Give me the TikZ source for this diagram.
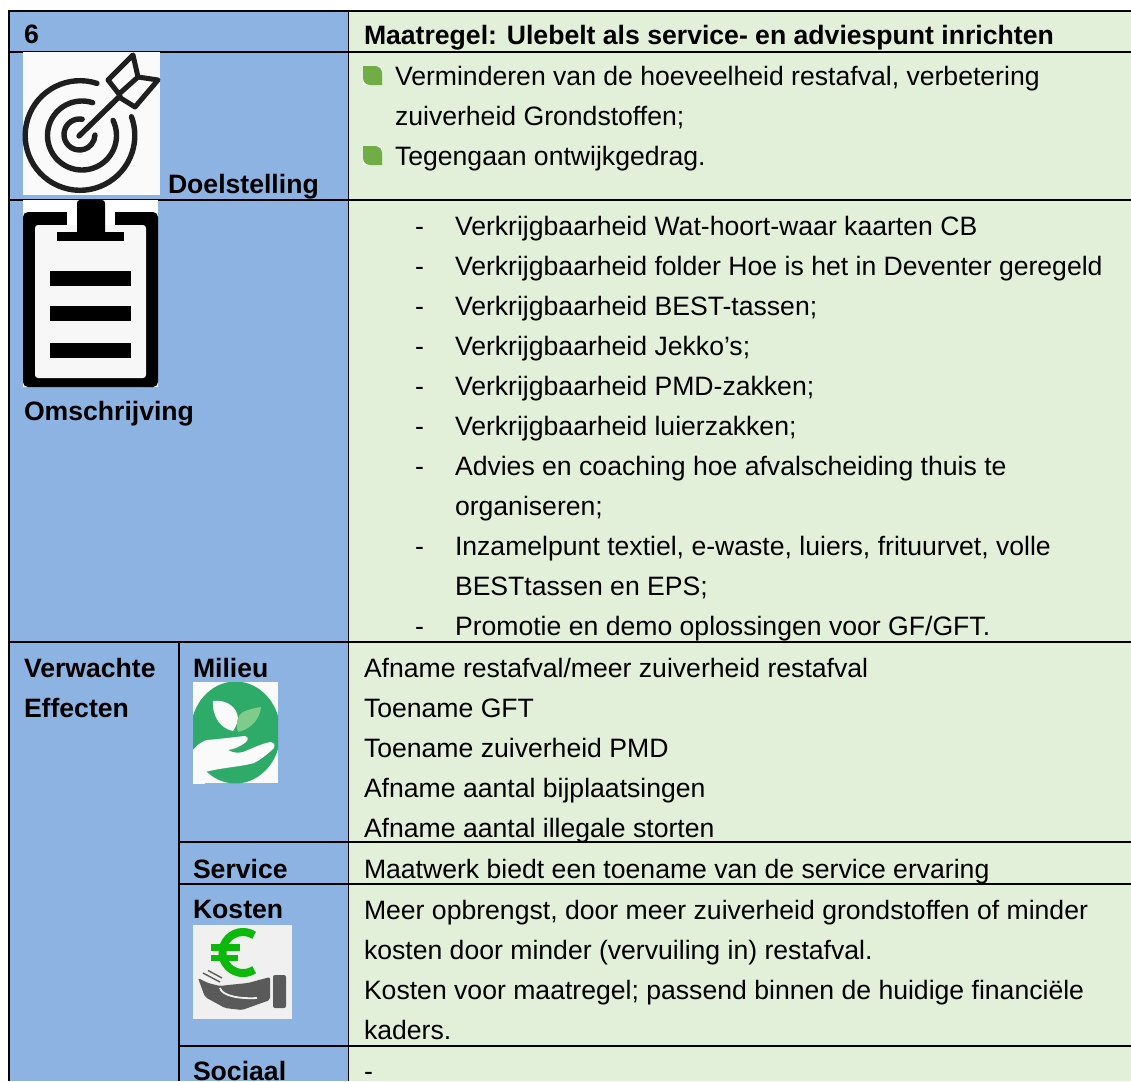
\documentclass[tikz,border=0pt]{standalone}
\usepackage{fontspec}
\setmainfont{Liberation Sans}
\definecolor{cblue}{HTML}{8DB3E2}
\definecolor{cgreen}{HTML}{E2EFD9}
\definecolor{cbul}{HTML}{70AD47}
\definecolor{cleaf}{HTML}{2EAB68}
\definecolor{cleafl}{HTML}{7FCB8B}
\definecolor{ceuro}{HTML}{0DB80D}
\definecolor{chand}{HTML}{5A5A5A}
\newcommand{\fsz}{\fontsize{26.6}{30}\selectfont}
\tikzset{
 txt/.style={anchor=base west,inner sep=0pt,outer sep=0pt,font=\fsz,text=black},
 hdr/.style={txt,font=\fsz\bfseries},
 grid/.style={draw=black,line width=1.7pt},
 tick/.style={txt}
}
\newcommand{\bul}[2]{%
 \begin{scope}[shift={(#1,#2)}]
 \fill[white] (0,0) rectangle (19,19);
 \fill[cbul] (0,0) -- (12,0) .. controls (16,0) and (19,3) .. (19,7) -- (19,19) -- (7,19) .. controls (3,19) and (0,16) .. (0,12) -- cycle;
 \end{scope}
}
\begin{document}
\begin{tikzpicture}[x=1pt,y=-1pt]
\useasboundingbox (0,0) rectangle (1131,1081);
\fill[white] (0,0) rectangle (1131,1081);
% cells
\fill[cblue] (9,11) rectangle (348.5,1081);
\fill[cgreen] (348.5,11) rectangle (1131,1081);
% grid
\draw[grid] (1131,11) -- (9,11) -- (9,1081);
\draw[grid] (348.5,11) -- (348.5,1081);
\draw[grid] (9,52) -- (1131,52);
\draw[grid] (9,200) -- (1131,200);
\draw[grid] (9,642) -- (1131,642);
\draw[grid] (179,642) -- (179,1081);
\draw[grid] (179,842) -- (1131,842);
\draw[grid] (179,884) -- (1131,884);
\draw[grid] (179,1046) -- (1131,1046);
% target icon
\fill[white!98!black] (23,52) rectangle (160,195);
\begin{scope}[draw=black!88,line width=5.4pt,line cap=round]
\draw[shift={(80,135.5)}] (-72:54.8) arc[start angle=-72,end angle=-380,radius=54.8];
\draw[shift={(82,135.5)}] (-72:34.5) arc[start angle=-72,end angle=-386,radius=34.5];
\draw[shift={(79.5,134.5)}] (-80:15.5) arc[start angle=-80,end angle=-358,radius=15.5];
\end{scope}
\draw[black!88,line width=5.4pt,line cap=round,line join=round] (79,136) -- (120,96);
\draw[black!88,line width=5pt,line join=round] (133,55) -- (138,77) -- (119,94) -- (108,80) -- cycle;
\draw[black!88,line width=5pt,line join=round] (138,77) -- (158,80) -- (135,107) -- (119,97);
% clipboard icon
\fill[white] (23,200) rectangle (158,387);
\fill[black,rounded corners=5pt] (23,212) rectangle (158,387);
\fill[white!97!black,rounded corners=3pt] (35,225) rectangle (146,378);
\fill[white] (67,205) rectangle (115,225);
\fill[black,rounded corners=3pt] (77,200) rectangle (105,236);
\fill[black] (57,232) rectangle (124,241);
\fill[black] (50,271) rectangle (131,286);
\fill[black] (50,306) rectangle (131,321);
\fill[black] (50,343) rectangle (131,358);
% leaf icon
\begin{scope}
\clip (193,682) rectangle (278,783);
\fill[white!98!black] (193,682) rectangle (278,783);
\fill[cleaf] (235.5,732.5) ellipse[x radius=45,y radius=51];
\fill[white!98!black] (193,750) .. controls (198,744) and (203,741) .. (207,740) .. controls (220,739) and (235,737) .. (245,736) .. controls (249,737) and (248,740) .. (246,742) .. controls (240,747) and (234,749) .. (228,750) .. controls (233,753) and (238,753) .. (243,752) .. controls (253,748) and (263,743) .. (271,742) .. controls (276,743) and (275,748) .. (272,750) .. controls (265,756) and (260,760) .. (254,763) .. controls (240,767) and (225,767) .. (205,772) -- (205,785) -- (193,785) -- cycle;
\fill[white!98!black] (213,701) .. controls (220,700) and (226,702) .. (229,704) .. controls (236,708) and (238,714) .. (238,720) .. controls (237,724) and (235,728) .. (233,731) .. controls (222,729) and (212,718) .. (213,701) -- cycle;
\fill[cleafl] (261,707) .. controls (260,718) and (252,729) .. (238,732) .. controls (235,722) and (238,715) .. (243,712) .. controls (249,709) and (255,708) .. (261,707) -- cycle;
\end{scope}
% euro icon
\fill[white!94!black] (193,925) rectangle (292,1019);
\draw[ceuro,line width=8pt] (243,952.5) ++(-57:20.5) arc[start angle=-57,end angle=-303,radius=20.5];
\fill[ceuro] (211,944) rectangle (240,950.5);
\fill[ceuro] (211,955) rectangle (238,961);
\fill[chand,rounded corners=2pt] (273,975) rectangle (286,1008);
\fill[chand,rounded corners=2pt] (198,978) -- (208,983) -- (220,986) -- (228,985) -- (248,983) -- (270,977) -- (270,1000) -- (242,1010) -- (225,1008) -- (205,997) -- cycle;
\draw[white!94!black,line width=1.8pt] (220,988) .. controls (222,996) and (240,999) .. (257,998);
\draw[chand,line width=1.4pt] (203,973) -- (220,982) (208,970.5) -- (222,978);
% left column
\node[hdr] (n6) at (24,44) {6};
\node[hdr] (doel) at (168,193) {Doelstelling};
\node[hdr] (omsch) at (24,420) {Omschrijving};
\node[hdr] (verw) at (24,677) {Verwachte};
\node[hdr] (eff) at (24,717) {Effecten};
\node[hdr] (mil) at (193,677) {Milieu};
\node[hdr] (serv) at (193,878) {Service};
\node[hdr] (kost) at (193,918) {Kosten};
\node[hdr] (soc) at (193,1080) {Sociaal};
% right column
\node[hdr] (maat) at (364,45) {Maatregel: Ulebelt als service- en adviespunt inrichten};
\bul{363}{66}
\bul{363}{146}
\node[txt] (d1) at (395,85) {Verminderen van de hoeveelheid restafval, verbetering};
\node[txt] (d2) at (395,125) {zuiverheid Grondstoffen;};
\node[txt] (d3) at (395,165) {Tegengaan ontwijkgedrag.};
\foreach \nm/\yy/\tx in {
 o1/235/{Verkrijgbaarheid Wat-hoort-waar kaarten CB},
 o2/275/{Verkrijgbaarheid folder Hoe is het in Deventer geregeld},
 o3/315/{Verkrijgbaarheid BEST-tassen;},
 o4/355/{Verkrijgbaarheid Jekko’s;},
 o5/395/{Verkrijgbaarheid PMD-zakken;},
 o6/435/{Verkrijgbaarheid luierzakken;},
 o7/475/{Advies en coaching hoe afvalscheiding thuis te},
 o9/555/{Inzamelpunt textiel, e-waste, luiers, frituurvet, volle},
 o11/635/{Promotie en demo oplossingen voor GF{/}GFT.}}
 {\node[txt] (\nm) at (455,\yy) {\tx};
  \node[tick] (dash\nm) at (415,\yy) {-};}
\node[txt] (o8) at (455,515) {organiseren;};
\node[txt] (o10) at (455,595) {BESTtassen en EPS;};
\node[txt] (e1) at (364,677) {Afname restafval/meer zuiverheid restafval};
\node[txt] (e2) at (364,717) {Toename GFT};
\node[txt] (e3) at (364,757) {Toename zuiverheid PMD};
\node[txt] (e4) at (364,797) {Afname aantal bijplaatsingen};
\node[txt] (e5) at (364,837) {Afname aantal illegale storten};
\node[txt] (s1) at (364,878) {Maatwerk biedt een toename van de service ervaring};
\node[txt] (k1) at (364,919) {Meer opbrengst, door meer zuiverheid grondstoffen of minder};
\node[txt] (k2) at (364,959) {kosten door minder (vervuiling in) restafval.};
\node[txt] (k3) at (364,999) {Kosten voor maatregel; passend binnen de huidige financiële};
\node[txt] (k4) at (364,1039) {kaders.};
\node[txt] (so1) at (364,1080) {-};
\end{tikzpicture}
\end{document}
